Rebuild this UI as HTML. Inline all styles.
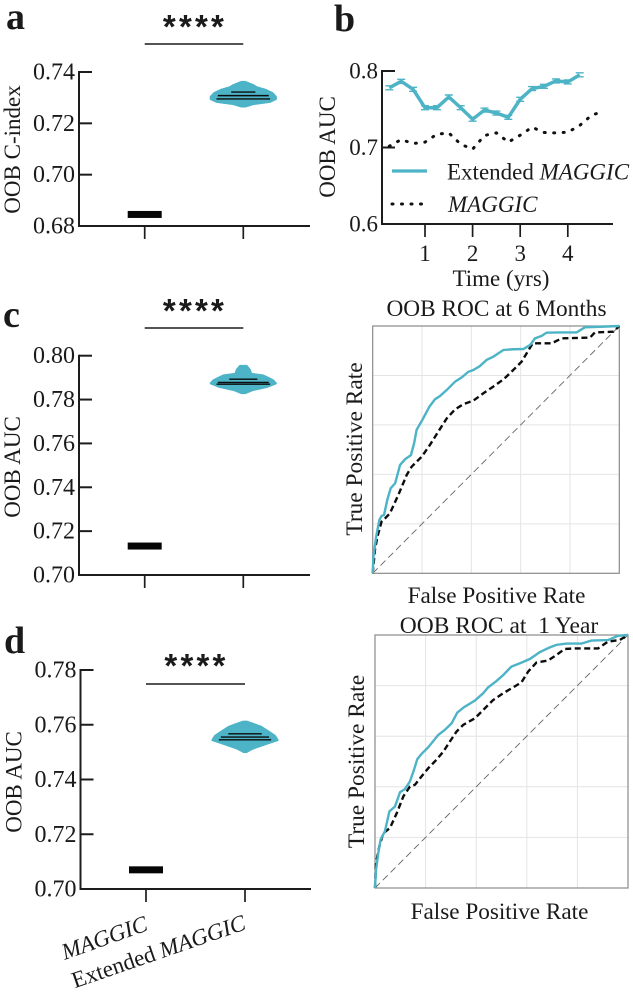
<!DOCTYPE html>
<html>
<head>
<meta charset="utf-8">
<title>OOB performance panels</title>
<style>
html,body{margin:0;padding:0;background:#fff;}
svg{display:block;position:absolute;left:0;top:0;filter:blur(0.35px);}
text{font-family:"Liberation Serif",serif;fill:#1a1a1a;}
.stars{font-family:"Liberation Sans",sans-serif;letter-spacing:3.2px;}
</style>
</head>
<body>
<svg id="fig" xmlns="http://www.w3.org/2000/svg" width="633" height="993" viewBox="0 0 633 993">
<rect x="0" y="0" width="633" height="993" fill="#fff"/>
<text x="6" y="29" font-size="38" font-weight="bold" fill="#111">a</text>
<text x="334" y="31" font-size="38" font-weight="bold" fill="#111">b</text>
<text x="3" y="327" font-size="38" font-weight="bold" fill="#111">c</text>
<text x="4" y="653" font-size="38" font-weight="bold" fill="#111">d</text>
<text transform="translate(20,149.500) rotate(-90)" text-anchor="middle" font-size="23">OOB C-index</text>
<text transform="translate(335,147) rotate(-90)" text-anchor="middle" font-size="23">OOB AUC</text>
<text transform="translate(20,467) rotate(-90)" text-anchor="middle" font-size="23">OOB AUC</text>
<text transform="translate(21.500,782) rotate(-90)" text-anchor="middle" font-size="23">OOB AUC</text>
<text x="501" y="286" text-anchor="middle" font-size="23">Time (yrs)</text>
<text class="stars" x="195" y="38" text-anchor="middle" font-size="33" font-weight="bold" fill="#111">****</text>
<text class="stars" x="195" y="322" text-anchor="middle" font-size="33" font-weight="bold" fill="#111">****</text>
<text class="stars" x="196.500" y="677" text-anchor="middle" font-size="33" font-weight="bold" fill="#111">****</text>
<text transform="translate(149,930) rotate(-19.5)" text-anchor="end" font-size="23" font-style="italic">MAGGIC</text>
<text transform="translate(247,929) rotate(-19)" text-anchor="end" font-size="23">Extended <tspan font-style="italic">MAGGIC</tspan></text>
<text x="447" y="179.500" font-size="23">Extended <tspan font-style="italic">MAGGIC</tspan></text>
<text x="448" y="212" font-size="23" font-style="italic">MAGGIC</text>
<text x="496.500" y="316" text-anchor="middle" font-size="23.3">OOB ROC at 6 Months</text>
<text x="499" y="633" text-anchor="middle" font-size="23.5" xml:space="preserve">OOB ROC at  1 Year</text>
<text transform="translate(362,449) rotate(-90)" text-anchor="middle" font-size="23.4">True Positive Rate</text>
<text transform="translate(364,761.500) rotate(-90)" text-anchor="middle" font-size="23.4">True Positive Rate</text>
<text x="496.500" y="603" text-anchor="middle" font-size="23.2">False Positive Rate</text>
<text x="499.500" y="919" text-anchor="middle" font-size="23.2">False Positive Rate</text>
</svg>
<script>
// Violin panels: categories and values
const violinCategories = ['MAGGIC', 'Extended MAGGIC'];
const aTicks = [0.68, 0.70, 0.72, 0.74];
const cTicks = [0.70, 0.72, 0.74, 0.76, 0.78, 0.80];
const dTicks = [0.70, 0.72, 0.74, 0.76, 0.78];
const aBaseline = 0.6845;
const cBaseline = 0.7132;
const dBaseline = 0.707;
const aViolinValues = [0.7361, 0.7349, 0.734, 0.733, 0.7317, 0.7303, 0.7295, 0.7284, 0.7275, 0.7266];
const aViolinDensity = [0.06, 0.3, 0.42, 0.69, 0.9, 1, 1, 0.82, 0.3, 0.06];
const aQuartiles = [0.7322, 0.7308, 0.7295];
const aQuartileWidth = [0.36, 0.76, 0.8];
const cViolinValues = [0.7953, 0.7935, 0.7917, 0.791, 0.7898, 0.7887, 0.7874, 0.7859, 0.7844, 0.783];
const cViolinDensity = [0.1, 0.2, 0.24, 0.6, 0.78, 0.92, 1, 0.75, 0.3, 0.06];
const cQuartiles = [0.7893, 0.7878, 0.787];
const cQuartileWidth = [0.42, 0.76, 0.8];
const dViolinValues = [0.7611, 0.7603, 0.7592, 0.7575, 0.7559, 0.7544, 0.7533, 0.752, 0.7511, 0.7501];
const dViolinDensity = [0.06, 0.25, 0.5, 0.72, 0.92, 1, 0.72, 0.4, 0.2, 0.05];
const dQuartiles = [0.7567, 0.7555, 0.7545];
const dQuartileWidth = [0.5, 0.72, 0.78];

// Time-dependent AUC panel
const bYTicks = [0.6, 0.7, 0.8];
const bXTicks = [1, 2, 3, 4];
const extendedTimes = [0.25, 0.5, 0.75, 1, 1.25, 1.5, 1.75, 2, 2.25, 2.5, 2.75, 3, 3.25, 3.5, 3.75, 4, 4.25];
const extendedAuc = [0.778, 0.7865, 0.776, 0.752, 0.752, 0.766, 0.752, 0.737, 0.749, 0.745, 0.7395, 0.763, 0.777, 0.78, 0.787, 0.7857, 0.795];
const maggicTimes = [0.25, 0.5, 0.75, 1, 1.25, 1.5, 1.75, 2, 2.25, 2.5, 2.75, 3, 3.25, 3.5, 3.75, 4, 4.25, 4.5, 4.75];
const maggicAuc = [0.7017, 0.7104, 0.7052, 0.707, 0.7174, 0.7191, 0.7043, 0.6978, 0.7157, 0.7191, 0.707, 0.7161, 0.7265, 0.7196, 0.7191, 0.72, 0.7287, 0.7422, 0.7474];

// ROC at 6 months
const roc6ExtFpr = [0, .003, .014, .027, .036, .046, .059, .073, .091, .111, .131, .155, .168, .178, .205, .23, .253, .273, .3, .334, .361, .388, .408, .435, .462, .489, .53, .57, .611, .638, .658, .685, .705, .759, .827, .861, .922, 1];
const roc6ExtTpr = [0, .067, .148, .216, .232, .236, .296, .344, .364, .438, .461, .478, .526, .58, .627, .674, .704, .717, .741, .775, .792, .815, .822, .838, .863, .876, .903, .906, .907, .923, .95, .96, .973, .974, .974, .995, .997, 1];
const roc6MagFpr = [0, .009, .019, .036, .05, .07, .104, .138, .158, .199, .232, .266, .3, .334, .368, .408, .449, .489, .53, .57, .604, .624, .649, .726, .766, .881, .901, .976, 1];
const roc6MagTpr = [0, .094, .148, .209, .222, .243, .317, .398, .431, .472, .519, .573, .626, .663, .684, .698, .728, .755, .784, .822, .856, .889, .93, .93, .95, .953, .974, .977, 1];

// ROC at 1 year
const roc12ExtFpr = [0, .004, .013, .022, .039, .057, .079, .099, .118, .138, .154, .167, .184, .211, .25, .276, .303, .325, .351, .395, .428, .447, .48, .507, .539, .579, .612, .651, .691, .717, .757, .816, .855, .921, .961, 1];
const roc12ExtTpr = [0, .072, .138, .191, .224, .303, .322, .379, .391, .421, .467, .509, .53, .557, .605, .625, .651, .693, .714, .741, .77, .793, .818, .842, .875, .891, .905, .932, .951, .961, .966, .966, .978, .98, .997, 1];
const roc12MagFpr = [0, .004, .017, .033, .059, .086, .112, .138, .158, .184, .211, .243, .27, .296, .322, .349, .395, .428, .467, .507, .546, .579, .605, .638, .684, .717, .75, .796, .882, .921, .967, 1];
const roc12MagTpr = [0, .099, .164, .217, .237, .296, .362, .401, .408, .441, .474, .507, .539, .579, .618, .645, .671, .704, .743, .77, .793, .813, .855, .891, .899, .921, .945, .947, .947, .974, .98, 1];
const rocGrid = [0.2, 0.4, 0.6, 0.8];

const fig = document.getElementById('fig');
const NS = 'http://www.w3.org/2000/svg';
const TEAL = '#4db3c6';
const INK = '#1c1c1c';

function make(tag, props) {
  const el = document.createElementNS(NS, tag);
  for (const k in props) el.setAttribute(k, props[k]);
  fig.appendChild(el);
  return el;
}
function scale(d0, d1, r0, r1) {
  return function (v) { return r0 + (v - d0) / (d1 - d0) * (r1 - r0); };
}
function linePath(xs, ys, sx, sy) {
  return xs.map(function (x, i) { return (i ? 'L' : 'M') + sx(x).toFixed(2) + ' ' + sy(ys[i]).toFixed(2); }).join(' ');
}

function violinPanel(cfg) {
  const sy = scale(cfg.ticks[0], cfg.ticks[cfg.ticks.length - 1], cfg.bottom, cfg.top);
  const xCat = [cfg.x0, cfg.x1];
  const yAxis = make('line', { x1: cfg.axisX, x2: cfg.axisX, y1: cfg.top - 1, y2: cfg.bottom + 1, stroke: INK, 'stroke-width': 2 });
  
  
  const xAxis = make('line', { x1: cfg.axisX, x2: cfg.axisEnd, y1: cfg.bottom, y2: cfg.bottom, stroke: INK, 'stroke-width': 2 });
  
  
  cfg.ticks.forEach(function (t) {
    const tick = make('line', { x1: cfg.axisX, x2: cfg.axisX + 13, y1: sy(t), y2: sy(t), stroke: INK, 'stroke-width': 2 });
    
    
    const label = make('text', { x: cfg.axisX - 4, y: sy(t) + 7.5, 'text-anchor': 'end', 'font-size': 24 });
    label.textContent = t.toFixed(2);
    
    
  });
  violinCategories.forEach(function (c, i) {
    const tick = make('line', { x1: xCat[i], x2: xCat[i], y1: cfg.bottom, y2: cfg.bottom + 13, stroke: INK, 'stroke-width': 1.7 });
    
    
  });
  const sig = make('line', { x1: xCat[0], x2: xCat[1], y1: cfg.sigY, y2: cfg.sigY, stroke: INK, 'stroke-width': 1.6 });
  
  
  const base = make('rect', { x: xCat[0] - 17, y: sy(cfg.baseline) - 3.500, width: 34, height: 7, fill: '#050505' });
  
  
  const right = cfg.values.map(function (v, i) { return (xCat[1] + cfg.density[i] * 32.5).toFixed(2) + ',' + sy(v).toFixed(2); });
  const left = cfg.values.map(function (v, i) { return (xCat[1] - cfg.density[i] * 32.5).toFixed(2) + ',' + sy(v).toFixed(2); }).reverse();
  const poly = make('polygon', { points: right.concat(left).join(' '), fill: TEAL, stroke: TEAL, 'stroke-width': 2.2, 'stroke-linejoin': 'round' });
  
  
  cfg.quartiles.forEach(function (q, i) {
    const hw = cfg.quartileWidth[i] * 33.5;
    const ql = make('line', { x1: xCat[1] - hw, x2: xCat[1] + hw, y1: sy(q), y2: sy(q), stroke: '#0c0c0c', 'stroke-width': 1.4 });
    
    
  });
}

violinPanel({ id: 'panel-a', ticks: aTicks, top: 72, bottom: 226, axisX: 79, axisEnd: 310, x0: 144.700, x1: 243.300, sigY: 44, baseline: aBaseline, values: aViolinValues, density: aViolinDensity, quartiles: aQuartiles, quartileWidth: aQuartileWidth });
violinPanel({ id: 'panel-c', ticks: cTicks, top: 355.700, bottom: 575, axisX: 79, axisEnd: 310, x0: 144.700, x1: 243.300, sigY: 328, baseline: cBaseline, values: cViolinValues, density: cViolinDensity, quartiles: cQuartiles, quartileWidth: cQuartileWidth });
violinPanel({ id: 'panel-d', ticks: dTicks, top: 670, bottom: 889, axisX: 80.500, axisEnd: 311, x0: 146, x1: 245, sigY: 684, baseline: dBaseline, values: dViolinValues, density: dViolinDensity, quartiles: dQuartiles, quartileWidth: dQuartileWidth });

// Panel b
const bx = scale(0, 1, 377.400, 425);
const by = scale(0.6, 0.8, 224, 71);
const bAxisY = make('line', { x1: 382, x2: 382, y1: 70, y2: 225, stroke: INK, 'stroke-width': 2 });


const bAxisX = make('line', { x1: 382, x2: 613, y1: 224, y2: 224, stroke: INK, 'stroke-width': 2 });


bYTicks.forEach(function (t) {
  const tick = make('line', { x1: 382, x2: 395, y1: by(t), y2: by(t), stroke: INK, 'stroke-width': 2 });
  
  
  const label = make('text', { x: 378, y: by(t) + 7.5, 'text-anchor': 'end', 'font-size': 23 });
  label.textContent = t.toFixed(1);
  
  
});
bXTicks.forEach(function (t) {
  const tick = make('line', { x1: bx(t), x2: bx(t), y1: 224, y2: 237, stroke: INK, 'stroke-width': 1.7 });
  
  
  const label = make('text', { x: bx(t), y: 261, 'text-anchor': 'middle', 'font-size': 23 });
  label.textContent = String(t);
  
  
});
const maggicLine = make('path', { d: linePath(maggicTimes, maggicAuc, bx, by), fill: 'none', stroke: '#111', 'stroke-width': 3, 'stroke-dasharray': '1 8.5', 'stroke-linecap': 'round' });


const extLine = make('path', { d: linePath(extendedTimes, extendedAuc, bx, by), fill: 'none', stroke: TEAL, 'stroke-width': 3.5, 'stroke-linejoin': 'miter' });


extendedTimes.forEach(function (t, i) {
  const cap = make('path', { d: 'M' + (bx(t) - 4) + ' ' + (by(extendedAuc[i]) - 2) + 'h8 M' + (bx(t) - 4) + ' ' + (by(extendedAuc[i]) + 2) + 'h8', stroke: TEAL, 'stroke-width': 1.4, fill: 'none' });
  
  
});
const legendExt = make('line', { x1: 392, x2: 427, y1: 171, y2: 171, stroke: TEAL, 'stroke-width': 3.2 });


const legendMag = make('line', { x1: 392, x2: 424, y1: 204, y2: 204, stroke: '#111', 'stroke-width': 3, 'stroke-dasharray': '1 8.5', 'stroke-linecap': 'round' });



function rocPanel(cfg) {
  const sx = scale(0, 1, cfg.left, cfg.right);
  const sy = scale(0, 1, cfg.bottom, cfg.top);
  rocGrid.forEach(function (g) {
    const gv = make('line', { x1: sx(g), x2: sx(g), y1: cfg.top, y2: cfg.bottom, stroke: '#e4e4e4', 'stroke-width': 1 });
    
    
    const gh = make('line', { x1: cfg.left, x2: cfg.right, y1: sy(g), y2: sy(g), stroke: '#e4e4e4', 'stroke-width': 1 });
    
    
  });
  const frame = make('rect', { x: cfg.left, y: cfg.top, width: cfg.right - cfg.left, height: cfg.bottom - cfg.top, fill: 'none', stroke: '#8a8a8a', 'stroke-width': 1.2 });
  
  
  const chance = make('line', { x1: sx(0), y1: sy(0), x2: sx(1), y2: sy(1), stroke: '#666', 'stroke-width': 0.9, 'stroke-dasharray': '7 4' });
  
  
  const mag = make('path', { d: linePath(cfg.magFpr, cfg.magTpr, sx, sy), fill: 'none', stroke: '#0c0c0c', 'stroke-width': 2.4, 'stroke-dasharray': '6 3.500' });
  
  
  const ext = make('path', { d: linePath(cfg.extFpr, cfg.extTpr, sx, sy), fill: 'none', stroke: TEAL, 'stroke-width': 2.4 });
  
  
}
rocPanel({ id: 'roc-6-months', left: 372.700, right: 619.300, top: 326, bottom: 573.300, extFpr: roc6ExtFpr, extTpr: roc6ExtTpr, magFpr: roc6MagFpr, magTpr: roc6MagTpr });
rocPanel({ id: 'roc-1-year', left: 375, right: 628, top: 635, bottom: 888, extFpr: roc12ExtFpr, extTpr: roc12ExtTpr, magFpr: roc12MagFpr, magTpr: roc12MagTpr });
</script>
</body>
</html>
